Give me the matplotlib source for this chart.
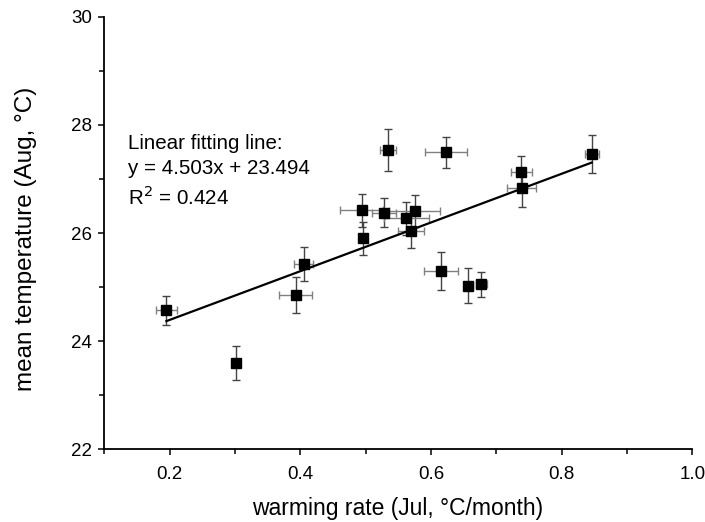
import matplotlib
matplotlib.use("Agg")
import matplotlib.pyplot as plt
import numpy as np
from matplotlib.ticker import MultipleLocator

plt.rcParams['font.family'] = ['Liberation Sans', 'DejaVu Sans']

# data
warming_rate = [0.195, 0.301, 0.393, 0.405, 0.494, 0.496, 0.528, 0.534, 0.5625,
                0.570, 0.575, 0.616, 0.623, 0.657, 0.677, 0.738, 0.739, 0.846]
mean_temp = [24.57, 23.60, 24.86, 25.43, 26.42, 25.90, 26.38, 27.53, 26.27,
             26.03, 26.41, 25.30, 27.49, 25.03, 25.05, 27.12, 26.84, 27.46]
x_err = [0.016, 0.003, 0.025, 0.015, 0.033, 0.003, 0.019, 0.012, 0.034,
         0.020, 0.039, 0.026, 0.032, 0.007, 0.008, 0.016, 0.022, 0.011]
y_err = [0.27, 0.31, 0.33, 0.32, 0.31, 0.31, 0.26, 0.385, 0.30,
         0.31, 0.30, 0.35, 0.29, 0.32, 0.23, 0.30, 0.36, 0.35]
fit_slope = 4.503
fit_intercept = 23.494
annotation = "Linear fitting line:\ny = 4.503x + 23.494\nR$^{2}$ = 0.424"
x_ticks = [0.2, 0.4, 0.6, 0.8, 1.0]
x_tick_labels = ['0.2', '0.4', '0.6', '0.8', '1.0']

fig = plt.figure(figsize=(7.05, 5.22), dpi=100)
ax = fig.add_axes([0.148, 0.139, 0.834, 0.829])

ax.errorbar(warming_rate, mean_temp, yerr=y_err, fmt='none',
            ecolor='#444444', elinewidth=1.0, capsize=3.2, capthick=1.0, zorder=2)
ax.errorbar(warming_rate, mean_temp, xerr=x_err, fmt='none',
            ecolor='#808080', elinewidth=1.0, capsize=3.2, capthick=1.0, zorder=2)
ax.plot(warming_rate, mean_temp, 's', color='black', markersize=6.8, zorder=3)

xf = np.array([min(warming_rate), max(warming_rate)])
ax.plot(xf, fit_slope * xf + fit_intercept, color='black', lw=1.6, zorder=2.5)

ax.text(128, 522 - 134, annotation, transform=None, fontsize=14.8,
        va='top', ha='left', linespacing=1.4)

ax.set_xlim(0.1, 1.0)
ax.set_ylim(22, 30)
ax.xaxis.set_minor_locator(MultipleLocator(0.1))
ax.yaxis.set_major_locator(MultipleLocator(2))
ax.yaxis.set_minor_locator(MultipleLocator(1))
ax.set_xticks(x_ticks)
ax.set_xticklabels(x_tick_labels)

for s in ['top', 'right']:
    ax.spines[s].set_visible(False)
for s in ['left', 'bottom']:
    ax.spines[s].set_linewidth(1.3)

ax.tick_params(axis='both', which='major', direction='out', length=4, width=1.1,
               labelsize=13.5)
ax.tick_params(axis='both', which='minor', direction='out', length=3.5, width=1.1)
ax.tick_params(axis='x', which='major', pad=8)
ax.tick_params(axis='y', which='major', pad=5)

ax.set_xlabel('warming rate (Jul, °C/month)', fontsize=16.5)
ax.set_ylabel('mean temperature (Aug, °C)', fontsize=17.5)
ax.xaxis.label.set_va('center')
ax.yaxis.label.set_va('center')
ax.xaxis.set_label_coords(0.498, -0.1357)
ax.yaxis.set_label_coords(-0.1330, 0.487)

fig.savefig('out.png', dpi=100)
